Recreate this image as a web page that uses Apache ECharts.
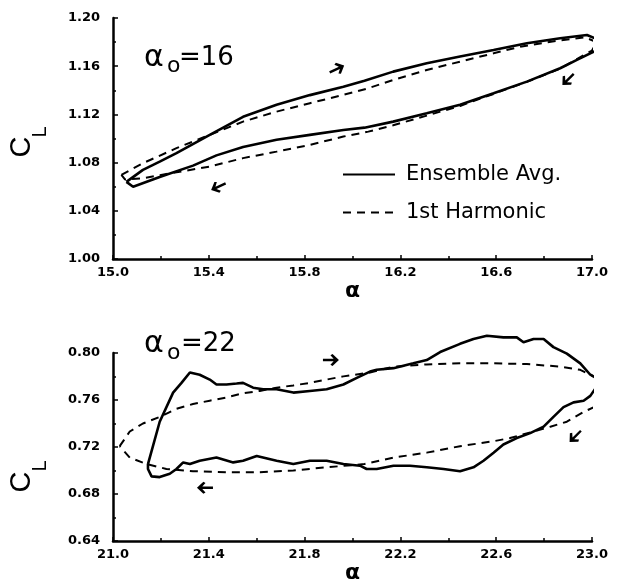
<!DOCTYPE html>
<html><head><meta charset="utf-8">
<script src="https://cdn.jsdelivr.net/npm/echarts@6/dist/echarts.min.js"></script>
<style>html,body{margin:0;padding:0;background:#fff}#c{width:617px;height:585px}</style>
</head><body><div id="c"></div>
<script>
// ---- tick labels ----
const topXTicks = ['15.0','15.4','15.8','16.2','16.6','17.0'];
const topYTicks = ['1.00','1.04','1.08','1.12','1.16','1.20'];
const botXTicks = ['21.0','21.4','21.8','22.2','22.6','23.0'];
const botYTicks = ['0.64','0.68','0.72','0.76','0.80'];
const seriesNames = ['Ensemble Avg.', '1st Harmonic'];
const topMeanAngle = '16';
const botMeanAngle = '22';

// ---- alpha0 = 16 : ensemble average loop ----
const topEnsAlpha = [15.056,15.125,15.195,15.265,15.404,15.543,15.683,15.822,15.962,16.05,16.17,16.31,16.449,16.589,16.728,16.867,16.979,17.028,17.035,
  17.007,16.937,16.867,16.728,16.589,16.449,16.31,16.17,16.05,15.962,15.822,15.683,15.543,15.432,15.334,15.195,15.084,15.056];
const topEnsCL = [1.064,1.074,1.0808,1.0878,1.103,1.118,1.128,1.136,1.143,1.148,1.1555,1.1624,1.168,1.1735,1.179,1.1832,1.1859,1.1818,1.1735,
  1.172,1.1652,1.1583,1.1472,1.1376,1.128,1.121,1.114,1.109,1.107,1.103,1.099,1.093,1.086,1.0775,1.068,1.060,1.064];
// ---- alpha0 = 16 : first harmonic ----
const topHarAlpha = [15.035,15.125,15.265,15.404,15.543,15.683,15.822,15.962,16.066,16.17,16.31,16.449,16.589,16.70,16.85,16.97,17.02,
  17.0,16.867,16.728,16.589,16.449,16.31,16.17,16.066,15.962,15.822,15.683,15.543,15.404,15.265,15.125,15.05,15.035];
const topHarCL = [1.0698,1.0795,1.092,1.103,1.114,1.1223,1.1293,1.1362,1.1417,1.1486,1.1569,1.1638,1.1707,1.1762,1.181,1.184,1.180,
  1.173,1.158,1.147,1.137,1.127,1.119,1.111,1.1057,1.1016,1.0947,1.0891,1.0837,1.0767,1.072,1.067,1.066,1.0698];

// ---- alpha0 = 22 : ensemble average loop ----
const botEnsAlpha = [21.146,21.195,21.251,21.286,21.321,21.362,21.404,21.432,21.474,21.516,21.543,21.585,21.627,21.683,21.753,21.822,21.892,21.962,22.018,22.073,
  22.101,22.171,22.254,22.31,22.366,22.449,22.505,22.561,22.63,22.686,22.714,22.756,22.798,22.839,22.895,22.951,22.993,23.028,23.063,23.07,23.084,23.035,22.993,
  22.965,22.923,22.881,22.839,22.798,22.742,22.686,22.63,22.589,22.547,22.505,22.449,22.38,22.31,22.24,22.171,22.101,22.059,22.031,
  21.962,21.892,21.822,21.753,21.683,21.6,21.543,21.502,21.432,21.362,21.321,21.293,21.265,21.237,21.195,21.161,21.146,21.146];
const botEnsCL = [0.7055,0.7415,0.7663,0.7746,0.7834,0.7815,0.7774,0.7732,0.7732,0.774,0.7746,0.7705,0.7691,0.7691,0.7663,0.7677,0.7691,0.7732,0.7788,0.7842,
  0.7857,0.7871,0.7912,0.794,0.8008,0.8078,0.8119,0.8147,0.8133,0.8133,0.8091,0.8119,0.8119,0.805,0.7995,0.7912,0.7815,0.7774,0.7788,0.7718,0.7525,0.776,0.7635,
  0.7594,0.758,0.7539,0.7456,0.7373,0.7318,0.7276,0.7221,0.7152,0.7083,0.7027,0.6994,0.7013,0.7027,0.7041,0.7041,0.7013,0.7013,0.7041,
  0.7055,0.7083,0.7083,0.7055,0.7083,0.7124,0.7083,0.7069,0.711,0.7083,0.7055,0.7069,0.7013,0.6972,0.6944,0.695,0.7013,0.7055];
// ---- alpha0 = 22 : first harmonic ----
const botHarAlpha = [21.028,21.07,21.125,21.195,21.265,21.334,21.404,21.474,21.543,21.613,21.683,21.753,21.822,21.892,21.962,22.073,22.171,22.31,22.449,22.589,22.728,22.867,22.951,23.007,23.049,23.056,
  23.021,22.965,22.895,22.826,22.756,22.658,22.589,22.449,22.31,22.171,22.05,21.892,21.753,21.613,21.474,21.334,21.223,21.14,21.07,21.028];
const botHarCL = [0.7207,0.7332,0.74,0.7456,0.7525,0.7566,0.7594,0.7622,0.7658,0.7677,0.7705,0.7724,0.7746,0.7774,0.7801,0.7834,0.7884,0.7903,0.7912,0.7912,0.7906,0.7884,0.7857,0.7801,0.7718,0.7649,
  0.7552,0.7498,0.7415,0.7373,0.7332,0.7276,0.7249,0.7207,0.7152,0.711,0.7055,0.7027,0.70,0.6986,0.6986,0.6994,0.7013,0.7055,0.711,0.7207];

// ---- direction arrows (position) ----
const topArrowAlpha = [15.935, 16.90, 15.44];
const topArrowCL = [1.1577, 1.149, 1.060];
const botArrowAlpha = [21.91, 22.93, 21.384];
const botArrowCL = [0.794, 0.729, 0.6853];
const topArrowDir = [25, 225, 205];
const botArrowDir = [0, 225, 180];

const topX0 = parseFloat(topXTicks[0]);
const botX0 = parseFloat(botXTicks[0]);
const pairs = (xs, ys, x0) => xs.map((x, i) => [+(x - x0).toFixed(4), ys[i]]);
const ARROW = 'path://M0,4 L10,4 L7,1 L9,0 L15,5 L9,10 L7,9 L10,6 L0,6 Z';
const arrows = (xs, ys, dirs, x0) => xs.map((x, i) => ({value: [+(x - x0).toFixed(4), ys[i]], symbolRotate: dirs[i]}));

const labelFont = {fontFamily: 'DejaVu Sans', fontWeight: 'bold', fontSize: 13, color: '#000'};
function xAxisCfg(gridIndex, ticks) {
  const x0 = parseFloat(ticks[0]);
  const span = parseFloat(ticks[ticks.length - 1]) - x0;
  const step = parseFloat(ticks[1]) - x0;
  return {
    type: 'value', gridIndex, min: 0, max: +span.toFixed(4), interval: +step.toFixed(4),
    name: 'α', nameLocation: 'middle', nameGap: 21,
    nameTextStyle: {fontFamily: 'DejaVu Sans', fontWeight: 'bold', fontSize: 22, color: '#000'},
    axisLine: {lineStyle: {color: '#000', width: 2.5}},
    axisTick: {inside: true, length: 4, lineStyle: {color: '#000', width: 1.5}},
    minorTick: {show: true, splitNumber: 2, length: 3, lineStyle: {color: '#000', width: 1.5}},
    splitLine: {show: false},
    axisLabel: Object.assign({margin: 7, formatter: (v) => (v + x0).toFixed(1)}, labelFont)
  };
}
function yAxisCfg(gridIndex, ticks) {
  return {
    type: 'value', gridIndex, min: parseFloat(ticks[0]), max: parseFloat(ticks[ticks.length - 1]),
    interval: +(parseFloat(ticks[1]) - parseFloat(ticks[0])).toFixed(4),
    axisLine: {show: true, lineStyle: {color: '#000', width: 2.5}},
    axisTick: {show: true, inside: true, length: 5, lineStyle: {color: '#000', width: 1.5}},
    minorTick: {show: true, splitNumber: 2, length: 3, lineStyle: {color: '#000', width: 1.5}},
    splitLine: {show: false},
    axisLabel: Object.assign({margin: 13, formatter: (v) => v.toFixed(2)}, labelFont)
  };
}
const solid = {color: '#000', width: 2.6};
const dashed = {color: '#000', width: 2, type: [8, 6]};
function lineSeries(name, xi, data, ls) {
  return {type: 'line', name, xAxisIndex: xi, yAxisIndex: xi, data, showSymbol: false, symbol: 'none',
    itemStyle: {color: '#000'}, lineStyle: ls, clip: false, smooth: false, z: 3, silent: true};
}
const txt = (text, x, y, size, extra) => ({type: 'text', x, y, silent: true, rotation: (extra && extra.rot) || 0,
  style: {text, fontFamily: (extra && extra.font) || 'DejaVu Sans', fontSize: size, lineHeight: size,
    fill: '#000', align: (extra && extra.align) || 'left', verticalAlign: (extra && extra.va) || 'top'}});
const ROT = {rot: Math.PI / 2, font: 'Liberation Sans', align: 'center', va: 'middle'};

const chart = echarts.init(document.getElementById('c'), null, {renderer: 'canvas'});
chart.setOption({
  animation: false,
  backgroundColor: '#fff',
  color: ['#000'],
  grid: [
    {left: 113, top: 18, width: 479, height: 241},
    {left: 113, top: 353, width: 479, height: 193}
  ],
  xAxis: [xAxisCfg(0, topXTicks), xAxisCfg(1, botXTicks)],
  yAxis: [yAxisCfg(0, topYTicks), yAxisCfg(1, botYTicks)],
  legend: {
    data: seriesNames, orient: 'vertical', left: 342, top: 164, padding: 0,
    itemWidth: 52, itemHeight: 12, itemGap: 17, selectedMode: false,
    itemStyle: {opacity: 0},
    textStyle: {fontFamily: 'DejaVu Sans', fontSize: 21, color: '#000', padding: [0, 0, 0, 6]}
  },
  graphic: [
    // C_L axis titles (rotated, subscript L)
    txt('C', 22, 147, 29, ROT), txt('L', 40, 132, 20, ROT),
    txt('C', 22, 482, 29, ROT), txt('L', 40, 466, 20, ROT),
    // alpha_o annotations
    txt('α', 144, 43, 30), txt('o', 167, 55, 22), txt('=' + topMeanAngle, 179, 45, 26),
    txt('α', 144, 329, 30), txt('o', 167, 342, 22), txt('=' + botMeanAngle, 181, 331, 26)
  ],
  series: [
    lineSeries(seriesNames[0], 0, pairs(topEnsAlpha, topEnsCL, topX0), solid),
    lineSeries(seriesNames[1], 0, pairs(topHarAlpha, topHarCL, topX0), dashed),
    lineSeries(seriesNames[0], 1, pairs(botEnsAlpha, botEnsCL, botX0), solid),
    lineSeries(seriesNames[1], 1, pairs(botHarAlpha, botHarCL, botX0), dashed),
    {type: 'scatter', name: 'arrows-top', xAxisIndex: 0, yAxisIndex: 0, symbol: ARROW, symbolSize: [16, 12],
      itemStyle: {color: '#000', opacity: 1}, silent: true, data: arrows(topArrowAlpha, topArrowCL, topArrowDir, topX0)},
    {type: 'scatter', name: 'arrows-bottom', xAxisIndex: 1, yAxisIndex: 1, symbol: ARROW, symbolSize: [16, 12],
      itemStyle: {color: '#000', opacity: 1}, silent: true, data: arrows(botArrowAlpha, botArrowCL, botArrowDir, botX0)}
  ]
});
</script></body></html>
